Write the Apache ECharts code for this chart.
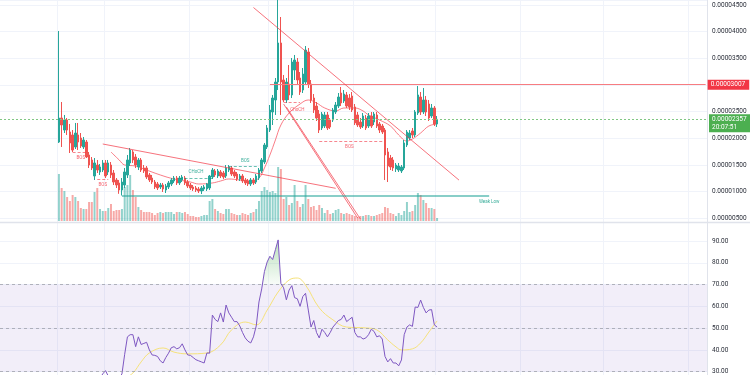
<!DOCTYPE html>
<html>
<head>
<meta charset="utf-8">
<script src="https://cdn.jsdelivr.net/npm/echarts@6/dist/echarts.min.js"></script>
<style>html,body{margin:0;padding:0;background:#fff;overflow:hidden}#main{width:750px;height:400px}</style>
</head>
<body>
<div id="main"></div>
<script>
// daily bars; prices kept in units of 1e-8
var startDate = '2023-11-24';
var slotCount = 258;      // bars incl. empty space on the right
var firstBar = 21;        // slot index of the first candle
var monthMarks = [21, 38, 69, 98, 129, 159, 190, 220, 251];

var open = [1931,2381,2156,2344,2119,2063,1838,2063,2006,1838,
 1931,1688,1594,1294,1500,1369,1406,1538,1369,1500,
 1350,1219,1163,1031,1125,1313,1538,1744,1650,1463,
 1594,1444,1444,1313,1256,1181,1144,1088,1125,1031,
 1088,1144,1200,1256,1163,1219,1256,1181,1125,1088,
 1069,1050,1013,1050,1050,1069,1275,1388,1294,1369,
 1350,1294,1406,1444,1369,1331,1238,1294,1219,1200,
 1144,1219,1181,1256,1388,1556,1838,2156,2494,2719,
 3056,3788,3094,2719,3019,2813,3281,3431,3131,2906,
 3056,3619,3019,2756,2606,2456,2194,2231,2438,2344,
 2344,2494,2606,2850,2700,2813,2756,2794,2588,2438,
 2306,2231,2381,2231,2419,2306,2438,2269,2231,2156,
 1744,1631,1594,1425,1406,1388,1444,1875,2006,2138,
 2063,2475,2775,2494,2719,2644,2419,2569,2269];
var close = [2381,2250,2344,2156,1913,1781,2100,1931,1856,1969,
 1650,1500,1444,1538,1406,1463,1538,1294,1538,1313,
 1181,1125,1031,1181,1369,1594,1781,1594,1500,1594,
 1406,1388,1275,1219,1181,1088,1069,1125,1050,1106,
 1163,1219,1256,1163,1256,1275,1163,1106,1069,1050,
 1031,1013,1069,1088,1144,1294,1406,1313,1388,1294,
 1275,1444,1463,1331,1294,1238,1294,1200,1163,1144,
 1219,1163,1294,1406,1594,1875,2194,2531,2756,3056,
 3788,3056,2719,3056,2813,3431,3469,3094,2869,3206,
 3656,3019,2719,2531,2381,2156,2456,2438,2194,2213,
 2531,2625,2775,2663,2831,2606,2588,2531,2288,2250,
 2213,2419,2194,2419,2231,2456,2231,2156,2119,1688,
 1481,1463,1444,1500,1481,1463,1913,2119,2100,2063,
 2494,2813,2494,2719,2494,2381,2569,2269,2357];
var low = [1913,1838,2100,2063,1725,1744,1800,1781,1819,1800,
 1631,1444,1406,1219,1350,1313,1369,1256,1313,1256,
 1125,1069,960,928,1069,1256,1481,1538,1444,1406,
 1369,1350,1238,1181,1144,1050,1031,1050,994,975,
 1050,1106,1163,1125,1125,1181,1125,1069,1031,1013,
 994,975,956,1013,1013,1031,1238,1275,1256,1256,
 1238,1256,1369,1294,1256,1200,1200,1163,1125,1106,
 1106,1125,1144,1219,1350,1519,1800,2119,2250,2438,
 2906,2438,2681,2663,2719,2756,3094,3019,2813,2850,
 3000,2944,2663,2475,2325,2100,2156,2194,2156,2175,
 2306,2456,2569,2606,2663,2569,2531,2494,2250,2213,
 2175,2194,2156,2194,2194,2250,2194,2100,2081,1219,
 1181,1406,1388,1369,1369,1350,1406,1838,1969,2006,
 2025,2438,2438,2456,2419,2325,2381,2231,2213];
var high = [4013,2681,2438,2381,2269,2156,2288,2288,2100,2025,
 1969,1744,1650,1631,1594,1519,1594,1594,1594,1556,
 1406,1256,1219,1256,1444,1688,1819,1781,1706,1631,
 1631,1500,1481,1350,1313,1219,1181,1163,1163,1144,
 1200,1256,1294,1294,1294,1313,1294,1219,1163,1125,
 1106,1088,1106,1125,1163,1313,1444,1425,1425,1406,
 1388,1500,1500,1481,1406,1369,1331,1331,1256,1238,
 1256,1256,1331,1444,1631,1913,2250,2625,2813,3131,
 4620,4275,3188,3131,3375,3506,3563,3506,3244,3319,
 3731,3694,3094,2831,2681,2531,2494,2494,2494,2381,
 2569,2681,2850,2963,2906,2869,2831,2869,2644,2494,
 2381,2475,2438,2475,2494,2494,2494,2306,2269,2194,
 1819,1688,1650,1538,1538,1500,1969,2156,2156,2194,
 2531,2981,2869,2944,2794,2719,2644,2606,2419];
var volume = [47,33,30,24,20,26,24,20,13,12,
 12,19,19,29,33,12,10,10,13,17,
 10,11,11,12,34,36,46,31,24,14,
 11,9,9,9,8,6,8,9,8,9,
 9,9,7,9,9,8,9,7,5,5,
 4,4,5,6,6,20,22,12,10,8,
 7,12,12,8,7,6,6,8,7,6,
 8,9,12,20,30,34,31,29,30,28,
 54,52,22,24,16,18,36,20,14,17,
 36,22,14,15,11,16,13,8,11,7,
 8,11,12,8,7,8,7,6,5,4,
 5,5,6,6,5,5,6,7,8,14,
 13,8,7,5,8,6,10,19,9,10,
 16,28,26,21,18,13,13,12,3];

// moving average on price, read at [slot, price]
var maPoints = [[40,1744],[43,1594],[45,1500],[49,1481],[52,1425],[58,1313],[63,1238],[69,1181],
 [72,1144],[77,1163],[80,1200],[83,1238],[87,1219],[91,1200],[94,1256],[96,1444],[98,1688],
 [100,1969],[102,2250],[105,2475],[109,2644],[112,2719],[115,2663],[118,2569],[122,2513],
 [125,2569],[129,2569],[132,2513],[134,2438],[138,2344],[142,2231],[145,2063],[148,1950],
 [150,1988],[153,2100],[156,2231],[159,2269]];

// drawings: [slot1, price1, slot2, price2]
var trendLines = [[92,4453,167,1217],[37,1894,122,1063],[103,2644,130,506],[104,2588,131,488]];
// structure breaks: [slotFrom, slotTo, price, colour key]
var breakLines = [[26,31,1744,'r'],[35,39,1238,'r'],[65,77,1256,'g'],[83,94,1481,'g'],[103,109,2681,'r'],[116,139,1950,'r']];
var tags = [[29,1631,'BOS','r'],[37,1125,'BOS','r'],[71,1369,'CHoCH','g'],[89,1575,'BOS','g'],
 [108,2531,'ChoCH','r'],[127,1838,'BOS','r'],[178,806,'Weak Low','g']];
var weakLow = [44, 178, 928];
var resistance = 3007, resistanceFrom = 98;
var lastPrice = 2357, countdown = '20:07:51';

// RSI from slot 35 onwards
var rsiStart = 35;
var rsi = [26,27,29,30.5,28,26,24,25,27,29,
 38,46,47,47,41.5,46,42.5,43,43.5,40,
 37.7,37.5,37,35,34,36.5,38.5,41,41.5,40.5,
 41,42.8,40,37.7,37.5,36.5,35.5,35,34.5,34,
 38.6,38.5,56,54,53,57,52.8,60.6,57,55,
 53,53,51,48,45.5,44,43.2,46,51,62,
 68,76,80.4,83,81.5,86,90.5,70.5,68.5,63,
 67.5,69.5,64,63.5,60,64.5,66,58.3,50.5,53.5,
 48,45.5,49.5,48,46,48,50.5,52,53.5,54,
 56,53,54,55,48,46,46,45,45.5,47,
 49.5,48.5,46,46.5,45,37,34.5,36,34,34,
 32.7,35.4,47,50.5,51.5,50.8,59.7,59.5,62.9,59.5,
 57,58.3,58.5,51.5,50.5];
var rsiMaPoints = [[44,26],[48,29.4],[51,34.5],[54,38.6],[59,40.9],[63,39],[68,38.2],[75,38.6],
 [80,42.3],[84,49.2],[89,52.8],[93,51.5],[97,58.3],[101,66.6],[105,72.1],[108,73],[111,69.8],
 [116,59.3],[121,53.8],[126,50.5],[133,50.1],[137,49.2],[141,44.6],[144,41.4],[146,40],
 [150,40.5],[153,43.2],[156,48.2],[159,53.3]];

var UP = '#26a69a', DOWN = '#ef5350', FONT = 'Roboto';
var tone = {r: '#f23645', g: '#089981'};

var cats = [];
var d0 = new Date(startDate + 'T00:00:00Z');
for (var i = 0; i < slotCount; i++) {
	var d = new Date(d0.getTime() + i * 86400000);
	cats.push(d.toISOString().slice(0, 10));
}

function bar(i) { var k = i - firstBar; return (k >= 0 && k < open.length) ? k : -1; }
function rsiAt(i) { var k = i - rsiStart; return (k >= 0 && k < rsi.length) ? rsi[k] : null; }

var candleData = cats.map(function (c, i) {
	var k = bar(i);
	return k < 0 ? '-' : [open[k], close[k], low[k], high[k]];
});
var volData = cats.map(function (c, i) {
	var k = bar(i);
	if (k < 0) return '-';
	return {value: volume[k], itemStyle: {color: close[k] >= open[k] ? 'rgba(38,166,154,0.5)' : 'rgba(239,83,80,0.5)'}};
});
var rsiData = cats.map(function (c, i) { var v = rsiAt(i); return v == null ? '-' : v; });
var obData = cats.map(function (c, i) {
	var v = rsiAt(i);
	if (v == null) return '-';
	if (v > 70) return v;
	if (rsiAt(i - 1) > 70 || rsiAt(i + 1) > 70) return 70;
	return '-';
});

var fmtPrice = function (v) { return (v / 1e8).toFixed(8); };
var isMark = function (idx) { return monthMarks.indexOf(idx) >= 0; };

function xAxisFor(g, marks) {
	return {
		type: 'category', gridIndex: g, data: cats, boundaryGap: true,
		axisLine: {show: false}, axisTick: {show: false}, axisLabel: {show: false},
		splitLine: {show: marks, interval: function (idx) { return isMark(idx); }, lineStyle: {color: '#f0f3fa'}}
	};
}

var myChart = echarts.init(document.getElementById('main'));
var option = {
	animation: false,
	backgroundColor: '#ffffff',
	textStyle: {fontFamily: FONT},
	grid: [
		{left: 0, right: 43, top: 0, height: 245},
		{left: 0, right: 43, top: 121, height: 100},
		{left: 0, right: 43, top: 222, height: 171.5}
	],
	xAxis: [xAxisFor(0, true), xAxisFor(1, false), xAxisFor(2, true)],
	yAxis: [
		{
			type: 'value', gridIndex: 0, position: 'right', min: 0, max: 4594, interval: 500,
			axisLine: {show: true, lineStyle: {color: '#e0e3eb'}}, axisTick: {show: false},
			axisLabel: {showMinLabel: false, showMaxLabel: false, fontSize: 6.5, color: '#2a2e39', margin: 5, fontFamily: FONT, formatter: fmtPrice},
			splitLine: {showMinLine: false, lineStyle: {color: '#f0f3fa'}}
		},
		{type: 'value', gridIndex: 1, min: 0, max: 100, show: false, splitLine: {show: false}},
		{
			type: 'value', gridIndex: 2, position: 'right', min: 20, max: 98.72, interval: 10,
			axisLine: {show: true, lineStyle: {color: '#e0e3eb'}}, axisTick: {show: false},
			axisLabel: {showMinLabel: false, showMaxLabel: false, fontSize: 6.5, color: '#2a2e39', margin: 5, fontFamily: FONT,
				formatter: function (v) { return v.toFixed(2); }},
			splitLine: {showMinLine: false, lineStyle: {color: '#f0f3fa'}}
		}
	],
	graphic: [{
		type: 'line', z: 100, silent: true,
		shape: {x1: 0, y1: 222.5, x2: 750, y2: 222.5},
		style: {stroke: '#e0e3eb', lineWidth: 1.5}
	}],
	series: [
		{
			name: 'volume', type: 'bar', xAxisIndex: 1, yAxisIndex: 1, data: volData,
			barWidth: '72%', z: 1, silent: true
		},
		{
			name: 'price', type: 'candlestick', xAxisIndex: 0, yAxisIndex: 0, data: candleData,
			barWidth: 2, z: 4, silent: true,
			itemStyle: {color: UP, color0: DOWN, borderColor: UP, borderColor0: DOWN, borderWidth: 1},
			markLine: {
				symbol: ['none', 'none'], silent: true,
				data: [
					[{coord: [resistanceFrom, resistance], lineStyle: {color: '#f77c80', width: 1.2, type: 'solid'},
						label: {show: true, position: 'end', distance: 2, formatter: fmtPrice(resistance), color: '#fff',
							backgroundColor: '#f23645', padding: [2, 4, 1, 3], fontSize: 6.5, fontFamily: FONT}},
					 {coord: [slotCount - 1, resistance]}],
					{yAxis: lastPrice, lineStyle: {color: '#81c784', width: 1, type: [2, 2]},
						label: {show: true, position: 'end', distance: 2, offset: [0, 4], formatter: fmtPrice(lastPrice) + '\n' + countdown, color: '#fff',
							backgroundColor: '#4caf50', padding: [2, 4, 1, 3], fontSize: 6.5, lineHeight: 7.5, fontFamily: FONT}}
				]
			}
		},
		{
			name: 'ma', type: 'line', xAxisIndex: 0, yAxisIndex: 0, data: maPoints, smooth: 0.4,
			symbol: 'none', z: 3, silent: true, lineStyle: {color: '#f7525f', width: 1, opacity: 0.75}
		},
		{
			name: 'trend', type: 'lines', coordinateSystem: 'cartesian2d', xAxisIndex: 0, yAxisIndex: 0, z: 5, silent: true,
			data: trendLines.map(function (t) {
				return {coords: [[t[0], t[1]], [t[2], t[3]]], lineStyle: {color: '#f23645', width: 1, opacity: 0.7}};
			}).concat(breakLines.map(function (b) {
				return {coords: [[b[0], b[2]], [b[1], b[2]]], lineStyle: {color: tone[b[3]], width: 1, type: [3, 2], opacity: 0.6}};
			})).concat([{coords: [[weakLow[0], weakLow[2]], [weakLow[1], weakLow[2]]], lineStyle: {color: '#26a69a', width: 2, opacity: 0.55}}])
		},
		{
			name: 'tags', type: 'scatter', xAxisIndex: 0, yAxisIndex: 0, symbolSize: 1, z: 6, silent: true,
			itemStyle: {color: 'rgba(0,0,0,0)'},
			data: tags.map(function (t) {
				return {value: [t[0], t[1]], label: {show: true, position: 'inside', formatter: t[2], fontSize: 4.5, color: tone[t[3]], opacity: 0.8, fontFamily: FONT}};
			})
		},
		{
			name: 'RSI', type: 'line', xAxisIndex: 2, yAxisIndex: 2, data: rsiData, symbol: 'none', z: 4, silent: true,
			lineStyle: {color: '#7e57c2', width: 1},
			markArea: {silent: true, itemStyle: {color: 'rgba(126,87,194,0.1)'}, data: [[{yAxis: 30}, {yAxis: 70}]]},
			markLine: {
				symbol: ['none', 'none'], silent: true, label: {show: false},
				lineStyle: {color: '#9598a1', width: 1, type: [3, 3], opacity: 0.7},
				data: [{yAxis: 70}, {yAxis: 50}, {yAxis: 30}]
			}
		},
		{
			name: 'RSI MA', type: 'line', xAxisIndex: 2, yAxisIndex: 2, data: rsiMaPoints, smooth: 0.4,
			symbol: 'none', z: 3, silent: true, lineStyle: {color: '#f6e27a', width: 1}
		},
		{
			name: 'overbought', type: 'line', xAxisIndex: 2, yAxisIndex: 2, data: obData, symbol: 'none', z: 2, silent: true,
			lineStyle: {width: 0, opacity: 0},
			areaStyle: {origin: 70, color: new echarts.graphic.LinearGradient(0, 0, 0, 1, [
				{offset: 0, color: 'rgba(76,175,80,0.55)'}, {offset: 1, color: 'rgba(76,175,80,0.05)'}])}
		}
	]
};
myChart.setOption(option);
</script>
</body>
</html>
